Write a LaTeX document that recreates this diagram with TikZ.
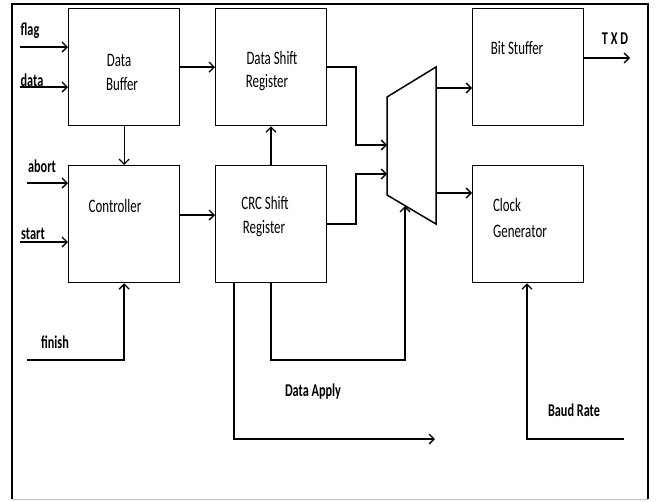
\documentclass[tikz,border=0pt]{standalone}
\usepackage{fontspec}
\setmainfont{Carlito}[FakeStretch=0.68]
\usetikzlibrary{arrows.meta}
\begin{document}
\begin{tikzpicture}[x=1pt,y=-1pt,
  box/.style={draw, line width=1.3pt, minimum width=111pt, minimum height=117pt, inner sep=0pt, anchor=north west},
  txt/.style={font=\fontsize{19}{22}\selectfont, inner sep=0pt},
  btxt/.style={font=\fontsize{18}{21}\selectfont\bfseries, inner sep=0pt},
  wire/.style={line width=1.3pt},
  thk/.style={line width=2pt},
  arr/.style={-{Straight Barb[length=5pt,width=10pt,line width=1.3pt]}}
]
\useasboundingbox (0,0) rectangle (656,501);
% frame
\draw[line width=1.5pt] (12,499) -- (12,4) -- (648,4) -- (648,499);
\draw[line width=0.6pt, black!25] (12,499) -- (648,499);

% boxes
\node[box] (db)  at (68,8) {};
\node[box] (dsr) at (215,8) {};
\node[box] (ctl) at (68,165) {};
\node[box] (crc) at (215,165) {};
\node[box] (bs)  at (472,8) {};
\node[box] (cg)  at (472,165) {};

% box texts
\node[txt] (t1) at (119,60) {Data};
\node[txt] (t2) at (122,84) {Buffer};
\node[txt] (t3) at (272,58) {Data Shift};
\node[txt] (t4) at (267,83) {Register};
\node[txt] (t5) at (115,206) {Controller};
\node[txt] (t6) at (265,203) {CRC Shift};
\node[txt] (t7) at (264,229) {Register};
\node[txt] (t8) at (517,48) {Bit Stuffer};
\node[txt] (t9) at (507,205) {Clock};
\node[txt] (t10) at (520,231) {Generator};

% mux
\coordinate (mtl) at (387,97);
\coordinate (mbl) at (387,195);
\coordinate (mtr) at (436,67);
\coordinate (mbr) at (436,224);
\draw[line width=1.5pt, line join=miter] (mtl) -- (mtr) -- (mbr) -- (mbl) -- cycle;

% labels
\node[btxt] (lflag) at (30,31) {flag};
\node[btxt] (ldata) at (32,80) {data};
\node[btxt] (labort) at (42,166) {abort};
\node[btxt] (lstart) at (33,234) {start};
\node[btxt] (lfinish) at (55,342) {finish};
\node[btxt] (ltxd) at (615,39) {T X D};
\node[btxt] (lapply) at (313,392) {Data Apply};
\node[btxt] (lbaud) at (574,410) {Baud Rate};

% inputs
\coordinate (iflag) at (20,47);
\coordinate (idata) at (20,87);
\coordinate (iabort) at (27,183);
\coordinate (istart) at (20,242);
\coordinate (ifinish) at (27,360);
\draw[wire,arr] (iflag) -- (iflag -| db.west);
\draw[wire,arr] (idata) -- (idata -| db.west);
\draw[thk,arr] (iabort) -- (iabort -| ctl.west);
\draw[wire,arr] (istart) -- (istart -| ctl.west);
\draw[thk,arr] (ifinish) -| (ctl.south);

% internal
\draw[thk,arr] (db) -- (dsr);
\draw[wire,arr] (db) -- (ctl);
\coordinate (c215) at (0,215);
\draw[thk,arr] (ctl.east |- c215) -- (crc.west |- c215);
\coordinate (x271) at (271,0);
\draw[thk,arr] (crc.north -| x271) -- (dsr.south -| x271);

% to mux
\coordinate (j1) at (356,67);
\coordinate (j2) at (356,224);
\coordinate (m1) at (387,145);
\coordinate (m2) at (387,174);
\draw[thk,arr] (dsr.east |- j1) -- (j1) |- (m1);
\draw[thk,arr] (crc.east |- j2) -- (j2) |- (m2);

% mux outputs
\coordinate (o1) at (436,88);
\coordinate (o2) at (436,193);
\draw[wire,arr] (o1) -- (o1 -| bs.west);
\draw[thk,arr] (o2) -- (o2 -| cg.west);
\coordinate (otxd) at (630,58);
\draw[thk,arr] (bs.east |- otxd) -- (otxd);

% select line
\coordinate (s1) at (271,360);
\coordinate (sel) at (405,206);
\draw[thk,arr] (crc.south -| s1) -- (s1) -| (sel);

% data apply
\coordinate (a1) at (234,439);
\coordinate (a2) at (435,439);
\draw[wire,arr] (crc.south -| a1) -- (a1) -- (a2);

% baud rate
\coordinate (b0) at (624,439);
\coordinate (b1) at (527,439);
\draw[wire,arr] (b0) -- (b1) -- (cg.south -| b1);
\end{tikzpicture}
\end{document}
